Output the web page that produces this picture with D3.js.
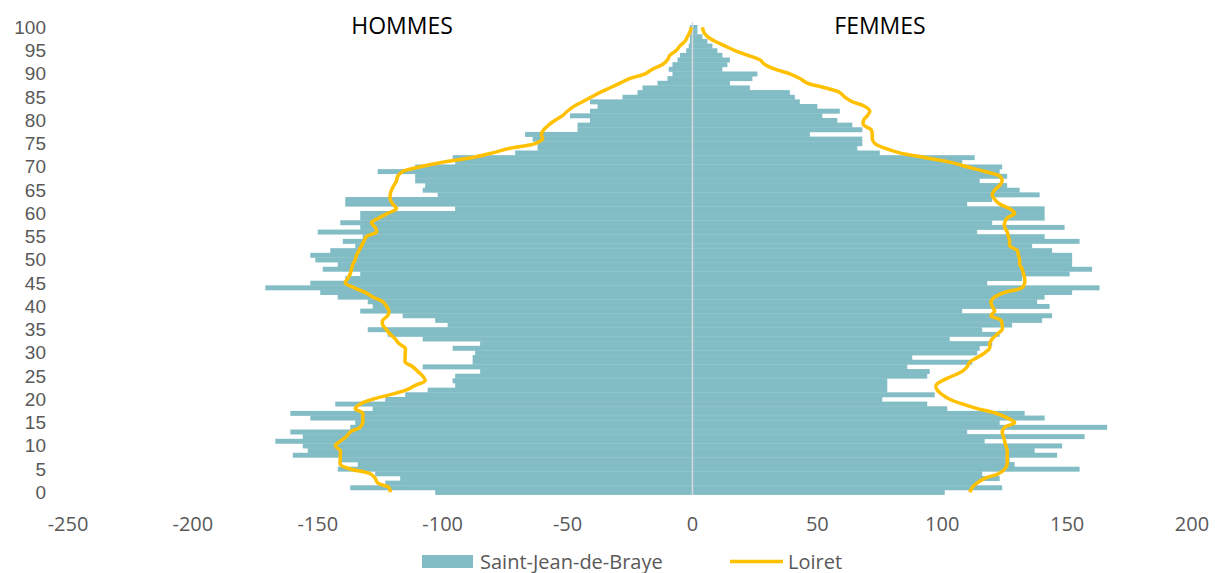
<!DOCTYPE html>
<html>
<head>
<meta charset="utf-8">
<script src="https://cdn.jsdelivr.net/npm/d3@7"></script>
<style>
  body { margin: 0; background: white; }
  text { font-family: "Open Sans", sans-serif; }
</style>
</head>
<body>
<div id="vis"></div>
<script>
// ages 0..100
let ages = d3.range(0, 101);

// Saint-Jean-de-Braye, hommes (negatifs) et femmes
let hommes = [-103,-137,-123,-117,-127,-142,-134,-141,-160,-154,
  -156,-167,-156,-161,-137,-135,-153,-161,-128,-143,
  -123,-115,-106,-95,-96,-95,-85,-108,-88,-88,
  -87,-96,-85,-108,-122,-130,-98,-103,-116,-133,
  -128,-130,-142,-149,-171,-153,-139,-133,-148,-142,
  -151,-153,-145,-135,-140,-132,-150,-133,-141,-133,
  -133,-95,-139,-139,-102,-108,-107,-111,-111,-126,
  -111,-95,-96,-71,-62,-62,-64,-67,-46,-46,
  -41,-49,-41,-38,-41,-28,-22,-20,-14,-10,
  -8,-9.5,-8,-6,-5,-2.5,-1.5,-1,-1,-0.5,
  -1];

let femmes = [101,124,114,123,116,155,129,127,146,137,
  148,117,157,110,166,123,141,133,102,94,
  76,97,78,78,78,94,95,86,112,88,
  114,115,120,103,123,116,128,140,144,108,
  143,138,141,152,163,118,132,151,160,152,
  152,152,144,136,155,141,114,149,120,141,
  141,141,110,120,139,131,126,115,126,123,
  124,108,113,75,66,68,68,47,68,64,
  58,52,59,50,43,41,39,23,15,24,
  26,12,14,15,12,10,8,6,4,2,
  2];

// Loiret (meme echelle)
let loiretHommes = [-121,-121.5,-126,-127,-129,-137,-141,-141,-141,-141,
  -143,-141,-138.5,-137,-133,-132,-132,-132,-135,-133,
  -128,-121,-114.5,-111,-107,-108,-110,-112,-115,-115,
  -115,-115,-117.5,-119,-121,-122.5,-124,-124,-122,-121.5,
  -122.5,-124,-128,-131,-135.5,-139,-138,-137,-136.5,-136,
  -135,-134.5,-133.5,-132.5,-131.5,-130.5,-126.5,-127,-128.5,-125.5,
  -122,-118.5,-120,-121,-121,-120.5,-119.5,-118.5,-118,-116,
  -109,-100,-88,-80,-73,-63,-60,-60.5,-59.5,-57.5,
  -55,-52,-50,-47.5,-44,-40.5,-37,-33,-29,-25,
  -19,-16,-12,-10,-9,-6.5,-5,-3,-2,-1,
  -0.5];

let loiretFemmes = [111,112,114,117,122.5,125,126,126,126,126,
  125.5,125,124.5,124,125,129,126,121.5,114,108,
  103,100,98,97.5,100,104,108,110,111,114,
  117,119,119,120,122,124,124,123.5,119.5,121,
  120,119.5,121,125,132,133,133,132.5,132,131,
  131,130.5,130,127,127,126.5,126,125,125,126,
  129,127,123,121,120,121,123,124,123,117,
  110,103,93,83,77,73,72,72,71.5,68.5,
  68.5,70,71,69,64,61,59,53,46,43,
  39,33,29,27,22,17,13,9,6,4.5,
  4];

let xTicks = [-250, -200, -150, -100, -50, 0, 50, 100, 150, 200];
let yTicks = d3.range(0, 101, 5);

let width = 1215, height = 573;

let svg = d3.select('#vis')
  .append('svg')
  .attr('width', width)
  .attr('height', height)
  .style('background-color', 'white');

let x = d3.scaleLinear().domain([-250, 200]).range([68, 1192]);
let y = d3.scaleBand().domain(ages.slice().reverse()).range([25, 494.6]).padding(0);

// bars
let barColor = '#82BCC5';
function drawBars(values, cls) {
  svg.append('g').attr('class', cls)
    .selectAll('rect')
    .data(values)
    .join('rect')
    .attr('x', d => x(Math.min(0, d)))
    .attr('y', (d, i) => y(ages[i]))
    .attr('width', d => Math.abs(x(d) - x(0)))
    .attr('height', y.bandwidth() + 0.3)
    .attr('fill', barColor);
}
drawBars(hommes, 'hommes');
drawBars(femmes, 'femmes');

// center line
svg.append('line')
  .attr('x1', x(0)).attr('x2', x(0))
  .attr('y1', 22).attr('y2', 495)
  .attr('stroke', '#D9D9D9')
  .attr('stroke-width', 1.5);

// Loiret lines
let line = d3.line()
  .x(d => x(d[1]))
  .y(d => y(d[0]) + y.bandwidth() / 2)
  .curve(d3.curveCatmullRom);

[loiretHommes, loiretFemmes].forEach(vals => {
  svg.append('path')
    .datum(vals.map((v, i) => [ages[i], v]))
    .attr('d', line)
    .attr('fill', 'none')
    .attr('stroke', '#FFC000')
    .attr('stroke-width', 3.5)
    .attr('stroke-linejoin', 'round');
});

// x axis labels
svg.append('g')
  .selectAll('text')
  .data(xTicks)
  .join('text')
  .attr('x', d => x(d))
  .attr('y', 524)
  .attr('dy', '0.35em')
  .attr('text-anchor', 'middle')
  .attr('font-size', 20)
  .attr('fill', '#595959')
  .text(d => String(d));

// y axis labels (narrower line box so labels do not collide)
svg.append('g')
  .selectAll('text')
  .data(yTicks)
  .join('text')
  .attr('x', 46)
  .attr('y', d => y(d) + y.bandwidth() / 2)
  .attr('dy', '0.35em')
  .attr('text-anchor', 'end')
  .style('font-family', '"Liberation Sans", Arial, sans-serif')
  .attr('font-size', 19)
  .attr('fill', '#595959')
  .text(d => d);

// titles
svg.append('text')
  .attr('x', 402).attr('y', 26).attr('dy', '0.35em')
  .attr('text-anchor', 'middle')
  .attr('font-size', 23)
  .attr('fill', '#000')
  .text('HOMMES');
svg.append('text')
  .attr('x', 880).attr('y', 26).attr('dy', '0.35em')
  .attr('text-anchor', 'middle')
  .attr('font-size', 23)
  .attr('fill', '#000')
  .text('FEMMES');

// legend
let legend = svg.append('g');
legend.append('rect')
  .attr('x', 422).attr('y', 555)
  .attr('width', 51).attr('height', 13)
  .attr('fill', barColor);
legend.append('text')
  .attr('x', 480).attr('y', 561.5).attr('dy', '0.35em')
  .attr('font-size', 20)
  .attr('fill', '#595959')
  .text('Saint-Jean-de-Braye');
legend.append('line')
  .attr('x1', 730).attr('x2', 783)
  .attr('y1', 561.5).attr('y2', 561.5)
  .attr('stroke', '#FFC000')
  .attr('stroke-width', 3.5);
legend.append('text')
  .attr('x', 788).attr('y', 561.5).attr('dy', '0.35em')
  .attr('font-size', 20)
  .attr('fill', '#595959')
  .text('Loiret');
</script>
</body>
</html>
